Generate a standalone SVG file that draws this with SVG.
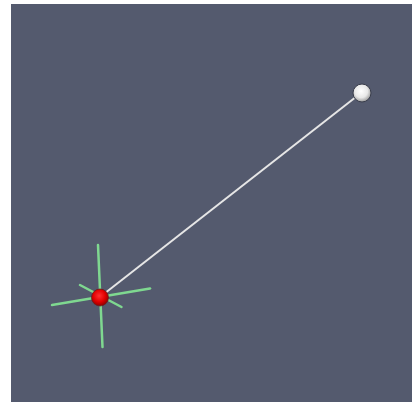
<svg xmlns="http://www.w3.org/2000/svg" width="412" height="402" viewBox="0 0 412 402">
<defs>
<radialGradient id="gw" cx="0.45" cy="0.4" r="0.6">
<stop offset="0" stop-color="#ffffff"/>
<stop offset="0.6" stop-color="#e8e8e8"/>
<stop offset="1" stop-color="#9a9a9a"/>
</radialGradient>
<radialGradient id="gr" cx="0.45" cy="0.4" r="0.6">
<stop offset="0" stop-color="#ff3030"/>
<stop offset="0.6" stop-color="#e00000"/>
<stop offset="1" stop-color="#900000"/>
</radialGradient>
<style>
.g{stroke:#7fd890;stroke-width:2.5;stroke-linecap:round;fill:none}
.w{stroke:#e6e6e6;stroke-width:2;fill:none}
</style>
</defs>
<rect x="0" y="0" width="412" height="402" fill="#ffffff"/>
<rect x="11" y="4" width="401" height="398" fill="#545a6e"/>
<g id="connectors">
<line class="w" x1="100" y1="297" x2="361" y2="93"/>
</g>
<g id="widget">
<line class="g" x1="98" y1="245" x2="102.5" y2="347"/>
<line class="g" x1="52" y1="305" x2="150" y2="288.5"/>
<line class="g" x1="80" y1="285" x2="121.5" y2="307"/>
</g>
<g id="start">
<circle cx="100" cy="297.5" r="8.5" fill="url(#gr)" stroke="#6a2020" stroke-width="0.8"/>
</g>
<g id="end">
<circle cx="362" cy="93" r="9" fill="url(#gw)" stroke="#3a3e4c" stroke-width="1"/>
</g>
</svg>
